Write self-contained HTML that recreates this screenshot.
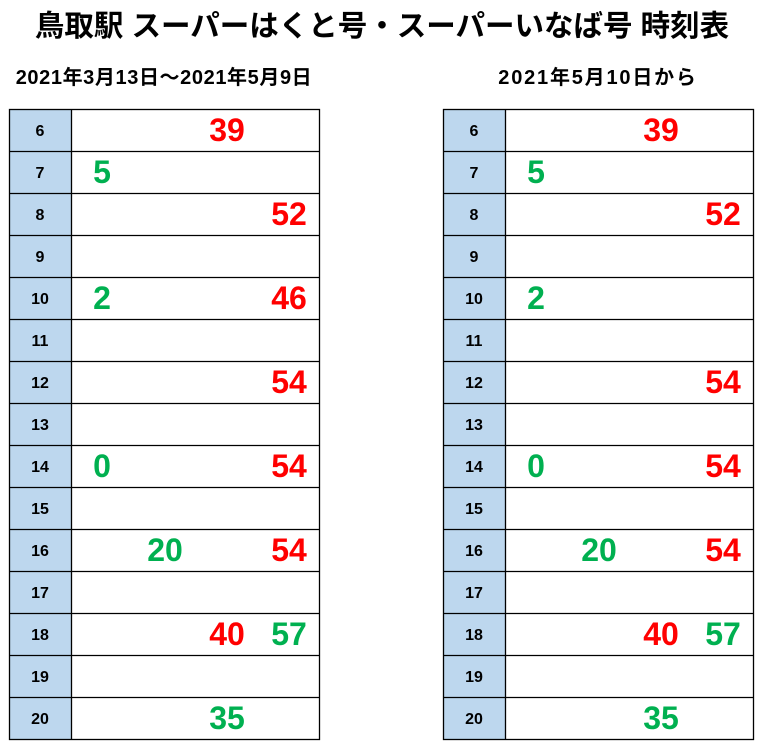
<!DOCTYPE html>
<html><head><meta charset="utf-8"><style>
body{margin:0;background:#fff;width:764px;height:748px;overflow:hidden}
</style></head><body>
<svg width="764" height="748" xmlns="http://www.w3.org/2000/svg" font-family="Liberation Sans, Noto Sans CJK JP, sans-serif">
<text x="382" y="36" text-anchor="middle" font-size="29.5" font-weight="bold" font-family="Liberation Sans, Noto Sans CJK JP, sans-serif">鳥取駅 スーパーはくと号・スーパーいなば号 時刻表</text>
<text x="164" y="84" text-anchor="middle" font-size="20" letter-spacing="0.6" font-weight="bold" font-family="Liberation Sans, Noto Sans CJK JP, sans-serif">2021年3月13日～2021年5月9日</text>
<text x="598" y="84" text-anchor="middle" font-size="20" letter-spacing="1.8" font-weight="bold" font-family="Liberation Sans, Noto Sans CJK JP, sans-serif">2021年5月10日から</text>
<rect x="10" y="109.5" width="62" height="630" fill="#bdd7ee"/>
<rect x="444" y="109.5" width="62" height="630" fill="#bdd7ee"/>
<g stroke="#000" stroke-width="1.3" fill="none">
<rect x="9.5" y="109.5" width="310" height="630"/>
<rect x="443.5" y="109.5" width="310" height="630"/>
<line x1="71.5" y1="109.5" x2="71.5" y2="739.5"/>
<line x1="505.5" y1="109.5" x2="505.5" y2="739.5"/>
<path d="M9.5 151.5H319.5M9.5 193.5H319.5M9.5 235.5H319.5M9.5 277.5H319.5M9.5 319.5H319.5M9.5 361.5H319.5M9.5 403.5H319.5M9.5 445.5H319.5M9.5 487.5H319.5M9.5 529.5H319.5M9.5 571.5H319.5M9.5 613.5H319.5M9.5 655.5H319.5M9.5 697.5H319.5"/>
<path d="M443.5 151.5H753.5M443.5 193.5H753.5M443.5 235.5H753.5M443.5 277.5H753.5M443.5 319.5H753.5M443.5 361.5H753.5M443.5 403.5H753.5M443.5 445.5H753.5M443.5 487.5H753.5M443.5 529.5H753.5M443.5 571.5H753.5M443.5 613.5H753.5M443.5 655.5H753.5M443.5 697.5H753.5"/>
</g>
<g font-size="16" font-weight="bold" text-anchor="middle">
<text x="40" y="136">6</text><text x="40" y="178">7</text><text x="40" y="220">8</text><text x="40" y="262">9</text><text x="40" y="304">10</text><text x="40" y="346">11</text><text x="40" y="388">12</text><text x="40" y="430">13</text><text x="40" y="472">14</text><text x="40" y="514">15</text><text x="40" y="556">16</text><text x="40" y="598">17</text><text x="40" y="640">18</text><text x="40" y="682">19</text><text x="40" y="724">20</text>
<text x="474" y="136">6</text><text x="474" y="178">7</text><text x="474" y="220">8</text><text x="474" y="262">9</text><text x="474" y="304">10</text><text x="474" y="346">11</text><text x="474" y="388">12</text><text x="474" y="430">13</text><text x="474" y="472">14</text><text x="474" y="514">15</text><text x="474" y="556">16</text><text x="474" y="598">17</text><text x="474" y="640">18</text><text x="474" y="682">19</text><text x="474" y="724">20</text>
</g>
<g font-size="32" font-weight="bold" text-anchor="middle">
<g>
<text x="227" y="141" fill="#ff0000">39</text>
<text x="102" y="183" fill="#00b050">5</text>
<text x="289" y="225" fill="#ff0000">52</text>
<text x="102" y="309" fill="#00b050">2</text>
<text x="289" y="309" fill="#ff0000">46</text>
<text x="289" y="393" fill="#ff0000">54</text>
<text x="102" y="477" fill="#00b050">0</text>
<text x="289" y="477" fill="#ff0000">54</text>
<text x="165" y="561" fill="#00b050">20</text>
<text x="289" y="561" fill="#ff0000">54</text>
<text x="227" y="645" fill="#ff0000">40</text>
<text x="289" y="645" fill="#00b050">57</text>
<text x="227" y="729" fill="#00b050">35</text>
</g>
<g transform="translate(434,0)">
<text x="227" y="141" fill="#ff0000">39</text>
<text x="102" y="183" fill="#00b050">5</text>
<text x="289" y="225" fill="#ff0000">52</text>
<text x="102" y="309" fill="#00b050">2</text>
<text x="289" y="393" fill="#ff0000">54</text>
<text x="102" y="477" fill="#00b050">0</text>
<text x="289" y="477" fill="#ff0000">54</text>
<text x="165" y="561" fill="#00b050">20</text>
<text x="289" y="561" fill="#ff0000">54</text>
<text x="227" y="645" fill="#ff0000">40</text>
<text x="289" y="645" fill="#00b050">57</text>
<text x="227" y="729" fill="#00b050">35</text>
</g>
</g>
</svg>
</body></html>
